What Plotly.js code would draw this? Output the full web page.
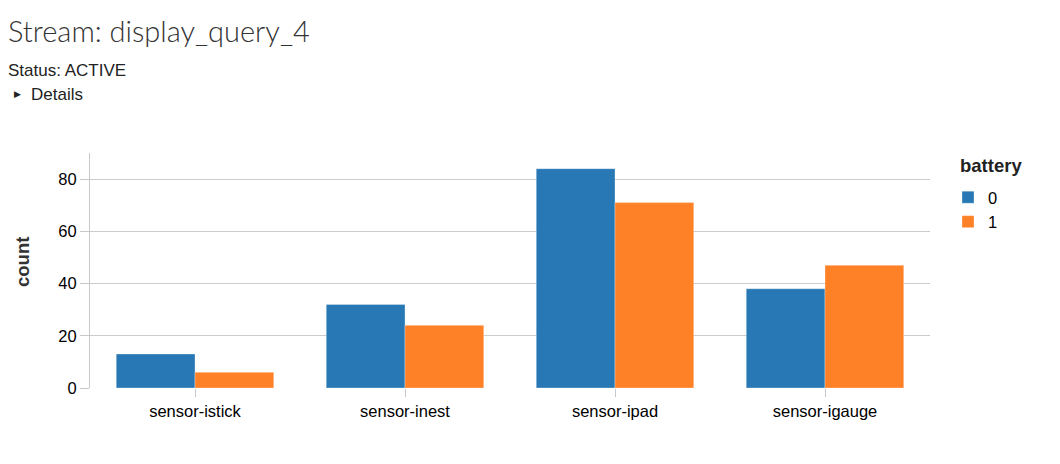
<!DOCTYPE html>
<html>
<head>
<meta charset="utf-8">
<script src="https://cdn.plot.ly/plotly-3.0.1.min.js"></script>
<style>html,body{margin:0;padding:0;background:#fff;}#chart{width:1060px;height:464px;}</style>
</head>
<body>
<div id="chart"></div>
<script>
const categories = ["sensor-istick", "sensor-inest", "sensor-ipad", "sensor-igauge"];
const seriesNames = ["0", "1"];
const battery0 = [13, 32, 84, 38];
const battery1 = [6, 24, 71, 47];
const yTicks = [0, 20, 40, 60, 80];

const colors = ["#2878b5", "#fe8128"];
const values = [battery0, battery1];

const traces = seriesNames.map((name, i) => ({
  type: "bar",
  name: name,
  x: categories,
  y: values[i],
  marker: {color: colors[i], line: {color: "rgba(255,255,255,0.6)", width: 0.5}},
  hoverinfo: "x+y+name"
}));

const baseFont = "Liberation Sans, Arial, Helvetica, sans-serif";
const PW = 840, PH = 235, ML = 90, MT = 153;
const px = x => (x - ML) / PW;
const py = y => 1 - (y - MT) / PH;

const layout = {
  width: 1060,
  height: 464,
  margin: {l: ML, r: 130, t: MT, b: 76},
  paper_bgcolor: "#fff",
  plot_bgcolor: "#fff",
  font: {family: baseFont, size: 16.5, color: "#000"},
  barmode: "group",
  bargap: 0.25,
  bargroupgap: 0,
  xaxis: {
    type: "category",
    showgrid: false,
    showline: false,
    ticks: "outside",
    ticklen: 8,
    tickcolor: "#c8c8c8",
    tickfont: {size: 16.5, color: "#000"},
    zeroline: false
  },
  yaxis: {
    range: [0, 90],
    tickvals: yTicks,
    ticktext: yTicks.map(String),
    showgrid: true,
    gridcolor: "#cccccc",
    gridwidth: 1,
    showline: true,
    linecolor: "#c8c8c8",
    linewidth: 1,
    ticks: "outside",
    ticklen: 9,
    tickcolor: "#c8c8c8",
    zeroline: false,
    tickfont: {size: 16.5, color: "#000"}
  },
  legend: {
    x: px(948),
    xanchor: "left",
    y: py(180),
    yanchor: "top",
    font: {size: 16.5, color: "#000"},
    tracegroupgap: 0,
    itemwidth: 30
  },
  showlegend: true,
  annotations: [
    {text: "Stream: display_query_4", xref: "paper", yref: "paper", x: px(6), y: py(31), xanchor: "left", yanchor: "middle", showarrow: false, font: {family: "Lato, " + baseFont, size: 29, color: "#333", weight: 300}},
    {text: "Status: ACTIVE", xref: "paper", yref: "paper", x: px(6), y: py(71), xanchor: "left", yanchor: "middle", showarrow: false, font: {size: 17, color: "#222"}},
    {text: "▶", xref: "paper", yref: "paper", x: px(12), y: py(94), xanchor: "left", yanchor: "middle", showarrow: false, font: {size: 9, color: "#222"}},
    {text: "Details", xref: "paper", yref: "paper", x: px(29), y: py(94), xanchor: "left", yanchor: "middle", showarrow: false, font: {size: 17, color: "#222"}},
    {text: "<b>count</b>", xref: "paper", yref: "paper", x: px(22), y: py(262), xanchor: "center", yanchor: "middle", textangle: -90, showarrow: false, font: {size: 18.5, color: "#333"}},
    {text: "<b>battery</b>", xref: "paper", yref: "paper", x: px(958), y: py(165), xanchor: "left", yanchor: "middle", showarrow: false, font: {size: 18.5, color: "#222"}}
  ]
};

Plotly.newPlot("chart", traces, layout, {displayModeBar: false});
</script>
</body>
</html>
